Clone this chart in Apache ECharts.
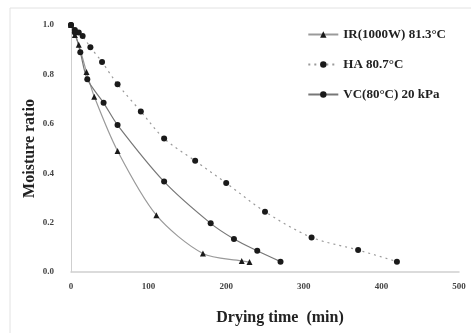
<!DOCTYPE html>
<html>
<head>
<meta charset="utf-8">
<script src="https://cdn.jsdelivr.net/npm/echarts@6/dist/echarts.min.js"></script>
<style>
  html, body { margin: 0; padding: 0; background: #fff; }
  #chart { width: 471px; height: 333px; }
</style>
</head>
<body>
<div id="chart"></div>
<script>
// 数据
const irTime = [0, 5, 10, 20, 30, 60, 110, 170, 220, 230]
const irMR = [1.0, 0.96, 0.92, 0.81, 0.71, 0.49, 0.23, 0.075, 0.045, 0.04]
const haTime = [0, 5, 10, 15, 25, 40, 60, 90, 120, 160, 200, 250, 310, 370, 420]
const haMR = [1.0, 0.98, 0.97, 0.955, 0.91, 0.85, 0.76, 0.65, 0.54, 0.45, 0.36, 0.244, 0.14, 0.089, 0.042]
const vcTime = [0, 5, 12, 21, 42, 60, 120, 180, 210, 240, 270]
const vcMR = [1.0, 0.97, 0.89, 0.78, 0.685, 0.595, 0.366, 0.197, 0.134, 0.086, 0.042]
const seriesNames = ['IR(1000W) 81.3°C', 'HA 80.7°C', 'VC(80°C) 20 kPa']

const pair = (xs, ys) => xs.map((x, i) => [x, ys[i]])
const font = 'Liberation Serif'

const chart = echarts.init(document.getElementById('chart'), null, { renderer: 'canvas' })

const makeSeries = (name, data, symbol, lineType, lineColor) => ({
  name,
  type: 'line',
  smooth: 0.3,
  data,
  symbol,
  symbolSize: 6,
  itemStyle: { color: '#1a1a1a' },
  lineStyle: { color: lineColor, width: 1.2, type: lineType },
  z: 3
})

chart.setOption({
  backgroundColor: '#fff',
  animation: false,
  // 外框
  graphic: [{
    type: 'rect',
    shape: { x: 10, y: 8, width: 470, height: 335 },
    style: { fill: 'none', stroke: '#e2e2e2', lineWidth: 1 },
    silent: true
  }],
  grid: { left: 71, right: 12, top: 25, bottom: 61 },
  legend: {
    orient: 'vertical',
    right: 20,
    top: 23,
    itemGap: 17,
    itemWidth: 30,
    itemHeight: 8,
    textStyle: { fontFamily: font, fontWeight: 'bold', fontSize: 13, color: '#222' },
    data: seriesNames
  },
  xAxis: {
    type: 'value',
    min: 0,
    max: 500,
    interval: 100,
    name: 'Drying time  (min)',
    nameLocation: 'middle',
    nameGap: 38,
    nameMoveOverlap: false,
    nameTextStyle: { fontFamily: font, fontWeight: 'bold', fontSize: 16, color: '#222', padding: [0, 0, 0, 30] },
    axisLine: { show: true, lineStyle: { color: '#cfcfcf', width: 1.5 } },
    axisTick: { show: false },
    splitLine: { show: false },
    axisLabel: { fontFamily: font, fontWeight: 'bold', fontSize: 9, color: '#444', margin: 10 }
  },
  yAxis: {
    type: 'value',
    min: 0,
    max: 1.0,
    interval: 0.2,
    name: 'Moisture ratio',
    nameLocation: 'middle',
    nameGap: 33,
    nameMoveOverlap: false,
    nameTextStyle: { fontFamily: font, fontWeight: 'bold', fontSize: 16, color: '#222' },
    axisLine: { show: true, lineStyle: { color: '#cfcfcf', width: 1 } },
    axisTick: { show: false },
    splitLine: { show: false },
    axisLabel: {
      fontFamily: font, fontWeight: 'bold', fontSize: 9, color: '#444', margin: 17,
      formatter: v => v.toFixed(1)
    }
  },
  series: [
    makeSeries(seriesNames[0], pair(irTime, irMR), 'triangle', 'solid', '#9a9a9a'),
    makeSeries(seriesNames[1], pair(haTime, haMR), 'circle', [2, 4], '#9a9a9a'),
    makeSeries(seriesNames[2], pair(vcTime, vcMR), 'circle', 'solid', '#777')
  ]
})
</script>
</body>
</html>
